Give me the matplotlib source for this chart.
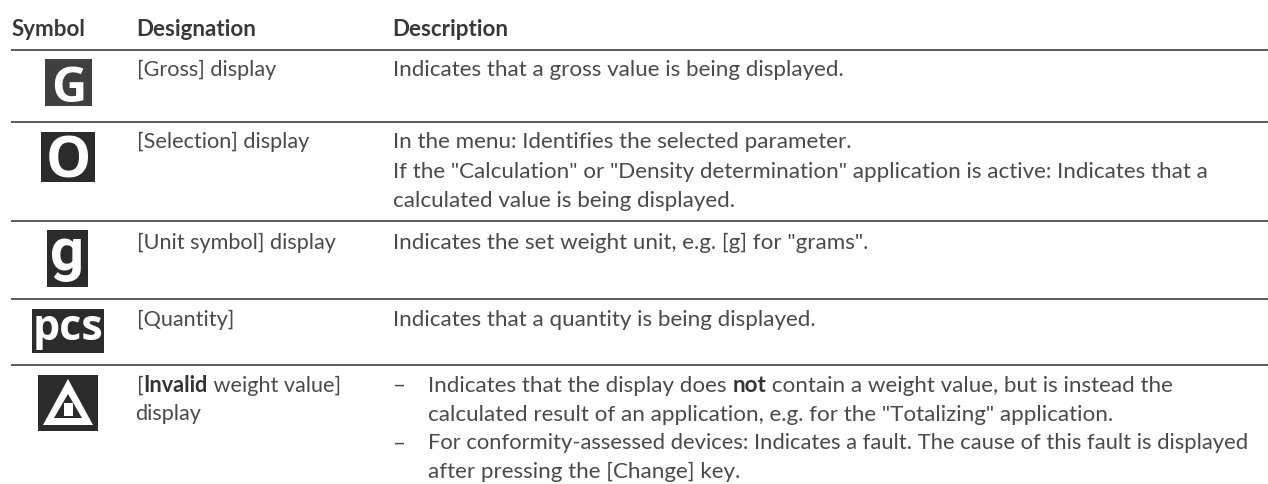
import matplotlib
matplotlib.use("Agg")
import matplotlib.pyplot as plt
from matplotlib.patches import Rectangle, Polygon

headers = ["Symbol", "Designation", "Description"]
symbols = ["G", "O", "g", "pcs", "triangle"]
designations = [
    [[("[Gross] display", False)]],
    [[("[Selection] display", False)]],
    [[("[Unit symbol] display", False)]],
    [[("[Quantity]", False)]],
    [[("[", False), ("Invalid", True), (" weight value]", False)], [("display", False)]],
]
descriptions = [
    [[("Indicates that a gross value is being displayed.", False)]],
    [[("In the menu: Identifies the selected parameter.", False)],
     [("If the \"Calculation\" or \"Density determination\" application is active: Indicates that a", False)],
     [("calculated value is being displayed.", False)]],
    [[("Indicates the set weight unit, e.g. [g] for \"grams\".", False)]],
    [[("Indicates that a quantity is being displayed.", False)]],
    [[("Indicates that the display does ", False), ("not", True), (" contain a weight value, but is instead the", False)],
     [("calculated result of an application, e.g. for the \"Totalizing\" application.", False)],
     [("For conformity-assessed devices: Indicates a fault. The cause of this fault is displayed", False)],
     [("after pressing the [Change] key.", False)]],
]

W, H = 1268, 484
SIZE = 16.1
INK = "#4a4a4a"
DARK = "#2b2b2b"
plt.rcParams["font.family"] = ["Lato", "DejaVu Sans"]

fig = plt.figure(figsize=(W / 100, H / 100), dpi=100, facecolor="white")
ax = fig.add_axes([0, 0, 1, 1])
ax.set_xlim(0, W)
ax.set_ylim(H, 0)
ax.axis("off")


def runs(x, y, parts, size=SIZE):
    r = fig.canvas.get_renderer()
    for s, bold in parts:
        t = ax.text(x, y, s, fontsize=size, color="#333333" if bold else INK, va="baseline", ha="left",
                    fontweight="bold" if bold else "normal")
        x += t.get_window_extent(r).width


# column headers and rules
for x, h in zip([12, 136.5, 392.5], headers):
    ax.text(x, 36.5, h, fontsize=SIZE, color="#383838", fontweight="bold", va="baseline")
for y in [49.5, 121.5, 220.5, 299, 364.5]:
    ax.plot([11, 1268], [y, y], color="#5a5a5a", lw=1.4, solid_capstyle="butt")

# designation and description text
row_first = [76.5, 148, 249, 326, 392]
DES_SIZE = 15.6
for y0, des in zip(row_first, designations):
    for i, line in enumerate(des):
        runs(137 if i == 0 else 135, y0 + i * 28, line, DES_SIZE)

for r in (0, 1, 2, 3):
    for i, line in enumerate(descriptions[r]):
        runs(393, row_first[r] + i * 29.7, line)

bullet_rows = [0, 2]
for i, line in enumerate(descriptions[4]):
    y = row_first[4] + i * 28.7
    if i in bullet_rows:
        ax.text(393, y, "\u2013", fontsize=SIZE, color=INK, va="baseline")
    runs(428, y, line, 15.83 if i == 2 else SIZE)

# symbol tiles: (left, top, right, bottom)
tiles = [(45, 59, 92, 106), (41, 132, 95, 182), (47, 230, 88, 287), (32, 309, 104, 353), (38, 375, 98, 431)]
fills = ["#3f3f42", DARK, DARK, DARK, DARK]
for sym, (l, t, r, b), c in zip(symbols, tiles, fills):
    ax.add_patch(Rectangle((l, t), r - l, b - t, color=c, lw=0))
    cx = (l + r) / 2
    if sym == "G":
        ax.text(cx, 101.5, sym, color="white", fontsize=35, fontweight="bold", ha="center", va="baseline", family="Open Sans")
    elif sym == "O":
        ax.text(cx, 177, sym, color="white", fontsize=41, fontweight="bold", ha="center", va="baseline", family="Open Sans")
    elif sym == "g":
        ax.text(cx - 1, 270, sym, color="white", fontsize=43, fontweight="bold", ha="center", va="baseline", family="Roboto")
    elif sym == "pcs":
        ax.text(cx, 340, sym, color="white", fontsize=31, fontweight="bold", ha="center", va="baseline", family="Open Sans")
    else:
        ax.add_patch(Polygon([(68, 379), (93, 425), (43, 425)], closed=True, color="white", lw=0))
        ax.add_patch(Polygon([(68, 394), (82, 418), (54, 418)], closed=True, color=DARK, lw=0))
        ax.add_patch(Rectangle((63.5, 403), 9, 13, color="white", lw=0))

fig.savefig("out.png", dpi=100)
